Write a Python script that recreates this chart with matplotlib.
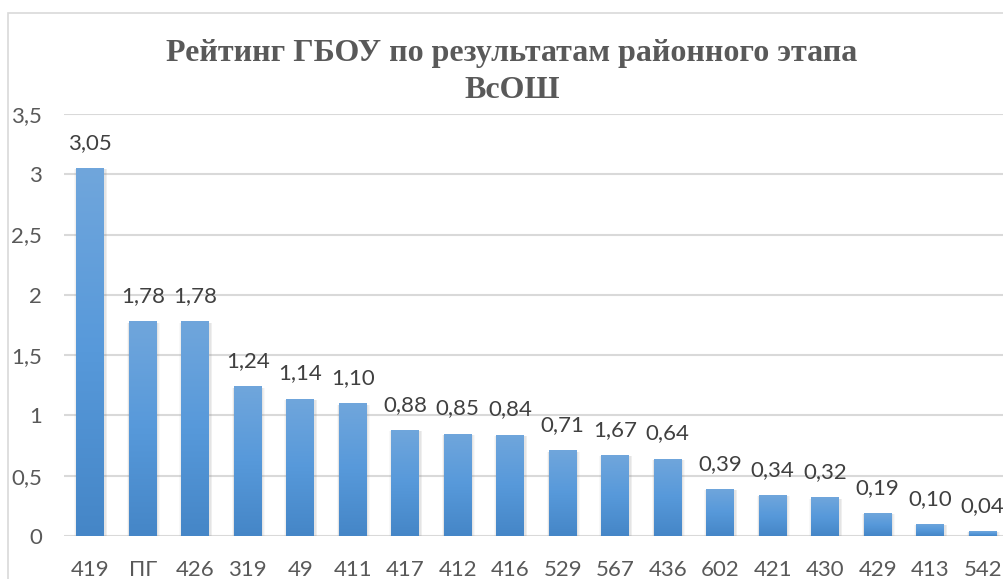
import numpy as np
import matplotlib.pyplot as plt
from matplotlib.patches import Rectangle
from matplotlib.colors import LinearSegmentedColormap

schools = ["419", "ПГ", "426", "319", "49", "411", "417", "412", "416",
           "529", "567", "436", "602", "421", "430", "429", "413", "542"]
values = [3.05, 1.78, 1.78, 1.24, 1.14, 1.10, 0.88, 0.85, 0.84,
          0.71, 0.67, 0.64, 0.39, 0.34, 0.32, 0.19, 0.10, 0.04]
labels = ["3,05", "1,78", "1,78", "1,24", "1,14", "1,10", "0,88", "0,85", "0,84",
          "0,71", "1,67", "0,64", "0,39", "0,34", "0,32", "0,19", "0,10", "0,04"]
yticks = [0, 0.5, 1, 1.5, 2, 2.5, 3, 3.5]

plt.rcParams['font.family'] = ['Lato', 'DejaVu Sans']
gray = "#595959"

fig = plt.figure(figsize=(10.04, 5.79), dpi=100)
fig.patches.append(Rectangle((8 / 1004, -0.1), 1.2, 1 - 13 / 579 + 0.1,
                             transform=fig.transFigure, fill=False,
                             edgecolor="#d9d9d9", linewidth=1.2))

ax = fig.add_axes([64 / 1004, 43 / 579, 945 / 1004, 422 / 579])
x = np.arange(len(schools))
w = 0.53

# soft shadow
for k, a in [(0.10, 0.05), (0.07, 0.07), (0.04, 0.09)]:
    ax.bar(x + 0.01, np.array(values) + 0.005, width=w + k, bottom=-0.015,
           color="#7f7f7f", alpha=a, linewidth=0, zorder=1)

bars = ax.bar(x, values, width=w, color="#5b9bd5", linewidth=0, zorder=2)
cmap = LinearSegmentedColormap.from_list("g", ["#4586c7", "#5799da", "#70a6dc"])
grad = np.linspace(0, 1, 256).reshape(-1, 1)
for b in bars:
    x0, y0 = b.get_x(), b.get_y()
    im = ax.imshow(grad, cmap=cmap, origin="lower", aspect="auto",
                   extent=[x0, x0 + b.get_width(), y0, y0 + b.get_height()],
                   zorder=3)
    im.set_clip_path(b)

for xi, v, t in zip(x, values, labels):
    ax.annotate(t, (xi, v), xytext=(0, 11), textcoords="offset points",
                ha="center", va="bottom", fontsize=16, color="#404040")

ax.set_xlim(-0.5, len(schools) - 0.5)
ax.set_ylim(0, 3.5)
ax.set_yticks(yticks)
ax.set_yticklabels([f"{t:g}".replace(".", ",") for t in yticks])
ax.set_xticks(x)
ax.set_xticklabels(schools)
ax.tick_params(length=0, labelsize=16, colors=gray)
ax.tick_params(axis="x", pad=17)
ax.tick_params(axis="y", pad=16)
ax.grid(axis="y", color="#d9d9d9", linewidth=1.5)
ax.set_axisbelow(True)
for s in ax.spines.values():
    s.set_visible(False)

fig.text(512 / 1004, 1 - 72 / 579,
         "Рейтинг ГБОУ по результатам районного этапа\nВсОШ",
         ha="center", va="center", fontsize=23, fontweight="bold",
         color=gray, family=["Liberation Serif", "DejaVu Serif"],
         linespacing=1.4)

fig.savefig("out.png", dpi=100)
